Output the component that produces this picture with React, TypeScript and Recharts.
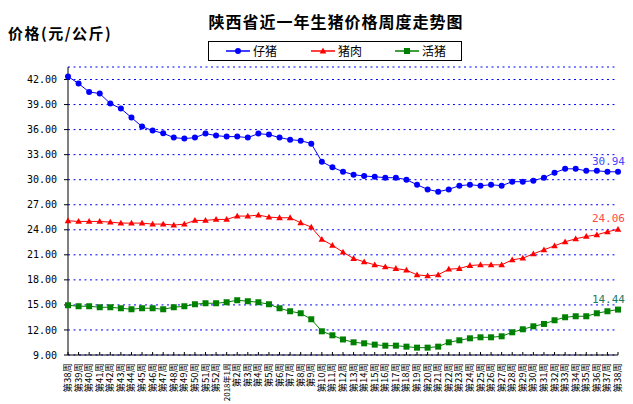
import React from "react";
import { LineChart, Line, XAxis, YAxis, CartesianGrid, Legend } from "recharts";

// 周次：2017年第38周 到 2018年第38周
const weeks = [
  "第38周", "第39周", "第40周", "第41周", "第42周", "第43周", "第44周", "第45周",
  "第46周", "第47周", "第48周", "第49周", "第50周", "第51周", "第52周", "2018年1周",
  "第2周", "第3周", "第4周", "第5周", "第6周", "第7周", "第8周", "第9周",
  "第10周", "第11周", "第12周", "第13周", "第14周", "第15周", "第16周", "第17周",
  "第18周", "第19周", "第20周", "第21周", "第22周", "第23周", "第24周", "第25周",
  "第26周", "第27周", "第28周", "第29周", "第30周", "第31周", "第32周", "第33周",
  "第34周", "第35周", "第36周", "第37周", "第38周",
];

const piglet = [
  42.36, 41.52, 40.51, 40.32, 39.12, 38.52, 37.44, 36.36, 35.88, 35.56,
  35.04, 34.92, 35.04, 35.52, 35.28, 35.16, 35.16, 35.04, 35.52, 35.4,
  35.04, 34.8, 34.68, 34.32, 32.16, 31.48, 30.96, 30.6, 30.44, 30.36,
  30.24, 30.24, 30.0, 29.4, 28.84, 28.56, 28.84, 29.28, 29.4, 29.28,
  29.4, 29.28, 29.76, 29.76, 29.88, 30.24, 30.84, 31.3, 31.3, 31.06,
  31.06, 30.96, 30.94,
];

const pork = [
  25.08, 25.0, 25.0, 25.0, 24.92, 24.8, 24.8, 24.8, 24.68, 24.68,
  24.56, 24.68, 25.12, 25.12, 25.24, 25.24, 25.64, 25.64, 25.76, 25.52,
  25.44, 25.44, 24.84, 24.32, 22.84, 22.14, 21.32, 20.56, 20.16, 19.8,
  19.56, 19.36, 19.16, 18.6, 18.48, 18.6, 19.28, 19.36, 19.72, 19.8,
  19.8, 19.8, 20.4, 20.6, 21.12, 21.6, 22.08, 22.56, 22.92, 23.2,
  23.4, 23.76, 24.06,
];

const hog = [
  14.96, 14.84, 14.84, 14.72, 14.72, 14.6, 14.48, 14.6, 14.6, 14.48,
  14.72, 14.84, 15.08, 15.2, 15.2, 15.32, 15.56, 15.44, 15.32, 15.08,
  14.6, 14.24, 14.0, 13.28, 11.84, 11.36, 10.86, 10.52, 10.4, 10.24,
  10.12, 10.12, 10.0, 9.88, 9.88, 10.0, 10.52, 10.76, 11.0, 11.12,
  11.12, 11.24, 11.72, 12.08, 12.44, 12.72, 13.16, 13.52, 13.64, 13.64,
  14.0, 14.24, 14.44,
];

const yTicks = [9, 12, 15, 18, 21, 24, 27, 30, 33, 36, 39, 42];

const legendOrder = ["piglet", "pork", "hog"];

const data = weeks.map((w, i) => ({
  week: w,
  piglet: piglet[i],
  pork: pork[i],
  hog: hog[i],
}));

const CJK = '"Noto Sans CJK SC", sans-serif';
const MONO = '"DejaVu Sans Mono", monospace';

const circleDot = (p: any) => (
  <circle key={`c${p.index}`} cx={p.cx} cy={p.cy} r={3} fill="#0000ff" />
);

const triDot = (p: any) => (
  <polygon
    key={`t${p.index}`}
    points={`${p.cx},${p.cy - 3.4} ${p.cx + 3.3},${p.cy + 2.4} ${p.cx - 3.3},${p.cy + 2.4}`}
    fill="#ff0000"
  />
);

const squareDot = (p: any) => (
  <rect key={`s${p.index}`} x={p.cx - 3} y={p.cy - 3} width={6} height={6} fill="#008000" />
);

// 只在最后一个点上标数值
const endLabel = (color: string) => (p: any) => {
  if (p.index !== weeks.length - 1) return <g key={`l${p.index}`} />;
  return (
    <text
      key={`l${p.index}`}
      x={p.x + 7}
      y={p.y - 7}
      textAnchor="end"
      fontSize={11}
      fontFamily={MONO}
      fill={color}
    >
      {Number(p.value).toFixed(2)}
    </text>
  );
};

function WeekTick(props: any) {
  const { x, y, payload } = props;
  const long = String(payload.value).length > 4;
  return (
    <g>
      <line x1={x} y1={y} x2={x} y2={y - 3} stroke="#000" />
      <text
        transform={`translate(${x + 3},${y + 8}) rotate(-90)`}
        textAnchor="end"
        fontSize={long ? 8 : 9.5}
        fontFamily={CJK}
        fill="#000"
      >
        {payload.value}
      </text>
    </g>
  );
}

function marker(key: string, color: string) {
  if (key === "piglet") return <circle cx={12} cy={6} r={3} fill={color} />;
  if (key === "pork")
    return <polygon points="12,2.6 15.3,8.4 8.7,8.4" fill={color} />;
  return <rect x={9} y={3} width={6} height={6} fill={color} />;
}

function LegendBox(props: any) {
  const lefts = [17, 102, 186];
  const items = [...(props.payload || [])].sort(
    (a: any, b: any) => legendOrder.indexOf(a.dataKey) - legendOrder.indexOf(b.dataKey)
  );
  return (
    <div
      style={{
        position: "relative",
        boxSizing: "border-box",
        width: 254,
        height: 20,
        border: "1px solid #000",
        background: "#fff",
      }}
    >
      {items.map((item: any, i: number) => (
        <div
          key={item.value}
          style={{ position: "absolute", left: lefts[i], top: 3, display: "flex", alignItems: "center" }}
        >
          <svg width={24} height={12}>
            <line x1={0} y1={6} x2={24} y2={6} stroke={item.color} strokeWidth={1.5} />
            {marker(item.dataKey, item.color)}
          </svg>
          <span style={{ marginLeft: 3, fontSize: 12, lineHeight: "12px", fontFamily: CJK, color: "#000" }}>
            {item.value}
          </span>
        </div>
      ))}
    </div>
  );
}

export default function App() {
  return (
    <div style={{ position: "absolute", left: 0, top: 0, width: 633, height: 404, background: "#fff" }}>
      <div
        style={{
          position: "absolute",
          left: 208,
          top: 13,
          width: 256,
          textAlign: "center",
          fontSize: 16,
          lineHeight: "16px",
          letterSpacing: 1,
          fontWeight: "bold",
          fontFamily: CJK,
          color: "#000",
          whiteSpace: "nowrap",
        }}
      >
        陕西省近一年生猪价格周度走势图
      </div>
      <div
        style={{
          position: "absolute",
          left: 8,
          top: 25,
          fontSize: 15,
          lineHeight: "15px",
          letterSpacing: 1.5,
          fontWeight: "bold",
          fontFamily: CJK,
          color: "#000",
          whiteSpace: "nowrap",
        }}
      >
        价格(元/公斤)
      </div>
      <LineChart width={633} height={404} data={data} margin={{ top: 67, right: 15, left: 0, bottom: 0 }}>
        <CartesianGrid horizontal vertical={false} stroke="#0000ff" strokeDasharray="2 3.5" />
        <XAxis
          dataKey="week"
          interval={0}
          height={49}
          tickSize={0}
          tickMargin={0}
          tickLine={false}
          axisLine={{ stroke: "#000" }}
          tick={<WeekTick />}
        />
        <YAxis
          width={68}
          domain={[9, 43.5]}
          ticks={yTicks}
          tickFormatter={(v: number) => v.toFixed(2)}
          tickSize={4}
          tickMargin={7}
          axisLine={{ stroke: "#000" }}
          tickLine={{ stroke: "#000" }}
          tick={{ fontSize: 10, fontFamily: MONO, fill: "#000" }}
        />
        <Legend
          layout="horizontal"
          verticalAlign="middle"
          align="center"
          wrapperStyle={{ top: 41, left: 208, width: 254, height: 20 }}
          content={<LegendBox />}
        />
        <Line
          dataKey="piglet"
          name="仔猪"
          stroke="#0000ff"
          strokeWidth={1}
          dot={circleDot}
          activeDot={false}
          label={endLabel("#4646ff")}
          isAnimationActive={false}
        />
        <Line
          dataKey="pork"
          name="猪肉"
          stroke="#ff0000"
          strokeWidth={1}
          dot={triDot}
          activeDot={false}
          label={endLabel("#ff4a4a")}
          isAnimationActive={false}
        />
        <Line
          dataKey="hog"
          name="活猪"
          stroke="#008000"
          strokeWidth={1}
          dot={squareDot}
          activeDot={false}
          label={endLabel("#1a7a64")}
          isAnimationActive={false}
        />
      </LineChart>
    </div>
  );
}
